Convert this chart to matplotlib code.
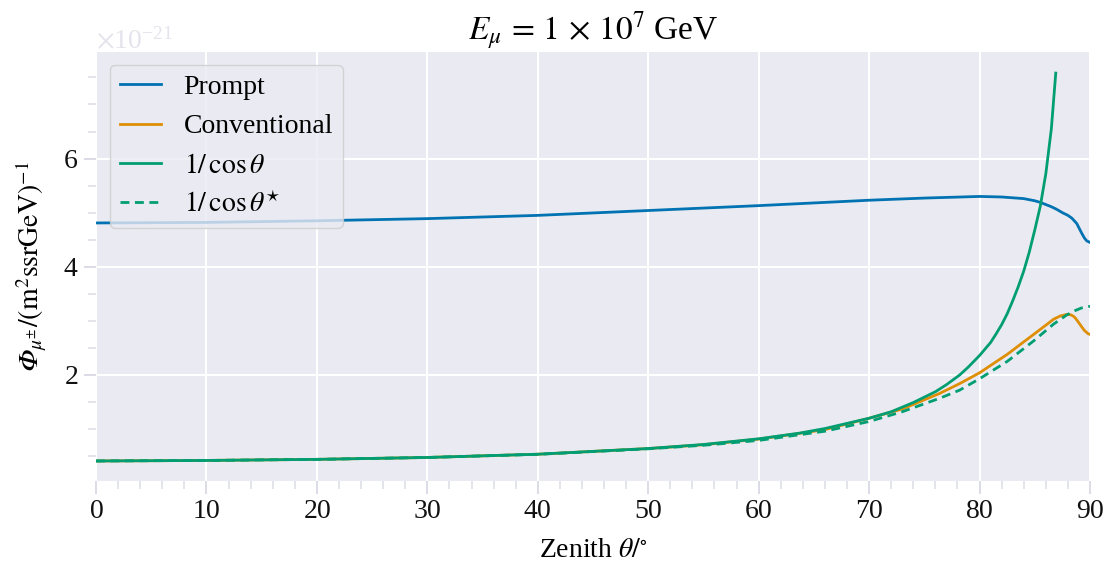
import numpy as np
import matplotlib
matplotlib.use("Agg")
import matplotlib.pyplot as plt
from matplotlib.ticker import MultipleLocator

# ---- data (values in units of 1e-21 (m^2 s sr GeV)^-1) ----
theta_prompt = [0, 10, 20, 30, 40, 50, 60, 70, 75, 80, 82, 84, 85, 85.5, 86, 86.5,
                87, 87.5, 88, 88.35, 88.8, 89.0, 89.25, 89.5, 89.7, 90]
flux_prompt = [4.81, 4.82, 4.85, 4.89, 4.95, 5.04, 5.13, 5.23, 5.27, 5.30, 5.29,
               5.26, 5.22, 5.19, 5.15, 5.11, 5.06, 5.00, 4.95, 4.90, 4.80, 4.72,
               4.62, 4.53, 4.48, 4.45]

theta_conv = [0, 10, 20, 30, 40, 50, 55, 60, 63.7, 66, 70, 73, 76.4, 78.2, 80,
              82.5, 84.9, 86.0, 86.7, 87.3, 87.9, 88.3, 88.6, 88.9, 89.25, 89.5,
              89.85, 90]
flux_conv = [0.41, 0.42, 0.44, 0.475, 0.535, 0.64, 0.71, 0.815, 0.92, 0.99, 1.20,
             1.37, 1.66, 1.84, 2.04, 2.38, 2.75, 2.92, 3.03, 3.09, 3.12, 3.11, 3.07,
             2.99, 2.89, 2.82, 2.76, 2.75]

theta_cos = [0, 10, 20, 30, 40, 50, 55, 60, 63.7, 66, 70, 72, 74, 76, 77, 78.2, 79,
             80, 81, 81.5, 82, 82.5, 83, 83.5, 84, 84.5, 85, 85.5, 86, 86.5, 86.9]
flux_cos = [0.41, 0.42, 0.44, 0.475, 0.535, 0.64, 0.715, 0.82, 0.925, 1.01, 1.20,
            1.32, 1.49, 1.69, 1.82, 2.00, 2.15, 2.36, 2.60, 2.76, 2.93, 3.13,
            3.37, 3.63, 3.92, 4.27, 4.68, 5.12, 5.72, 6.55, 7.58]

theta_cosstar = [0, 10, 20, 30, 40, 50, 55, 60, 63.7, 66, 70, 73, 76.4, 78.2, 80,
                 82.5, 84.9, 86.7, 87.9, 88.65, 89.25, 90]
flux_cosstar = [0.41, 0.42, 0.44, 0.475, 0.533, 0.635, 0.70, 0.79, 0.895, 0.96,
                1.14, 1.32, 1.57, 1.72, 1.93, 2.25, 2.63, 2.94, 3.11, 3.19, 3.24, 3.27]

labels = ["Prompt", "Conventional", r"$1/\,\cos\theta$", r"$1/\,\cos\theta^{\star}$"]
colors = ["#0173b2", "#de8f05", "#029e73", "#029e73"]
scale = 1e-21

plt.rcParams.update({
    "font.family": ["Liberation Serif", "DejaVu Serif"],
    "mathtext.fontset": "stix",
    "axes.facecolor": "#eaeaf2",
    "axes.edgecolor": "white",
    "axes.linewidth": 0,
    "grid.color": "white",
    "grid.linewidth": 1.5,
    "xtick.color": "#dcdce6",
    "ytick.color": "#dcdce6",
    "xtick.labelcolor": "#111111",
    "ytick.labelcolor": "#111111",
    "axes.formatter.use_mathtext": True,
})

fig = plt.figure(figsize=(11.14, 5.72), dpi=100)
ax = fig.add_axes([96 / 1114, 1 - 481 / 572, (1090 - 96) / 1114, (481 - 52) / 572])

lw = 2.0
ax.plot(theta_prompt, np.array(flux_prompt) * scale, color=colors[0], lw=lw, label=labels[0])
ax.plot(theta_conv, np.array(flux_conv) * scale, color=colors[1], lw=lw, label=labels[1])
ax.plot(theta_cos, np.array(flux_cos) * scale, color=colors[2], lw=lw, label=labels[2])
ax.plot(theta_cosstar, np.array(flux_cosstar) * scale, color=colors[3], lw=lw,
        ls=(0, (3.2, 2.0)), label=labels[3])

ax.set_xlim(0, 90)
ax.set_ylim(0.04e-21, 7.97e-21)
ax.xaxis.set_major_locator(MultipleLocator(10))
ax.xaxis.set_minor_locator(MultipleLocator(2))
ax.yaxis.set_major_locator(MultipleLocator(2e-21))
ax.yaxis.set_minor_locator(MultipleLocator(0.5e-21))
ax.grid(True, which="major")
ax.set_axisbelow(True)
for s in ax.spines.values():
    s.set_visible(False)
ax.tick_params(which="major", direction="out", length=9, width=1.4, labelsize=20, pad=4)
ax.tick_params(which="minor", direction="out", length=6, width=1.1)
ax.yaxis.get_offset_text().set_fontsize(20)
ax.yaxis.get_offset_text().set_color("#e4e4ec")

ax.set_xlabel(r"Zenith $\theta/^{\circ}$", fontsize=20, labelpad=10)
ax.set_ylabel("$\U0001D6F7_{\\mu^{\\pm}}/(\\mathrm{m}^{2}\\mathrm{ssrGeV})^{-1}$",
              fontsize=20, labelpad=10)
ax.set_title(r"$E_{\mu}\,=\,1\,\times\,10^{7}$ GeV", fontsize=24, pad=8)

leg = ax.legend(loc="upper left", fontsize=20, frameon=True, fancybox=True,
                borderpad=0.35, borderaxespad=0, handlelength=1.5, handletextpad=0.8,
                labelspacing=0.5, bbox_to_anchor=(0.014, 0.970))
leg.get_frame().set_edgecolor("#cccccc")
leg.get_frame().set_facecolor("#eaeaf2")
leg.get_frame().set_alpha(0.8)

fig.savefig("out.png", dpi=100)
